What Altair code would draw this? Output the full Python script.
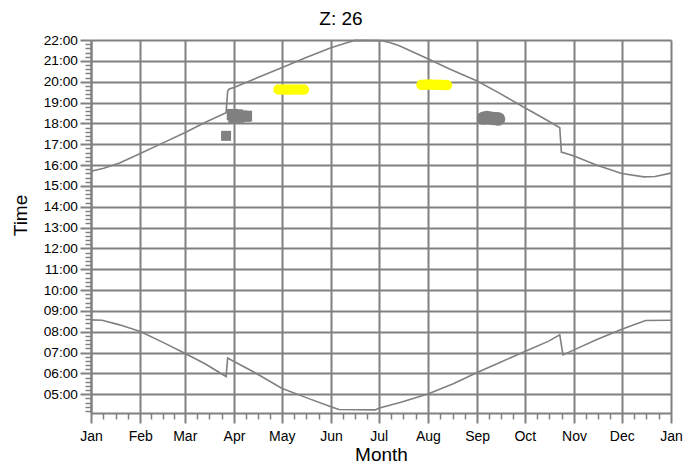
import json
import altair as alt
import pandas as pd

FONT = "Liberation Sans"
GRID = "#808080"

# ---- axis decorations ----
month_names = ["Jan", "Feb", "Mar", "Apr", "May", "Jun", "Jul", "Aug", "Sep", "Oct", "Nov", "Dec", "Jan"]
month_starts = [0, 31, 59, 90, 120, 151, 181, 212, 243, 273, 304, 334, 365]
hour_ticks = list(range(5, 23))
minor_x = [s + (e - s) * k / 4 for s, e in zip(month_starts[:-1], month_starts[1:]) for k in (1, 2, 3)]
minor_y = [h / 5 for h in range(21, 110) if h % 5]

# ---- sunset (upper line): day of year, hours ----
sunset_day = [0, 8, 18, 31, 45, 59, 72, 85, 86, 87, 90, 105, 120, 135, 151, 161, 166, 183, 188, 194,
              212, 226, 243, 257, 273, 287, 295, 296, 304, 318, 334, 348, 355, 365]
sunset_time = [15.70, 15.85, 16.10, 16.55, 17.05, 17.55, 18.05, 18.51, 19.55, 19.65, 19.72, 20.20, 20.67, 21.15,
               21.63, 21.87, 21.98, 21.97, 21.88, 21.72, 21.10, 20.60, 20.03, 19.45, 18.75, 18.15, 17.79, 16.62,
               16.43, 16.00, 15.59, 15.43, 15.45, 15.61]

# ---- sunrise (lower line) ----
sunrise_day = [0, 7, 18, 31, 45, 59, 72, 85, 86, 90, 103, 120, 135, 151, 156, 179, 181, 195, 212, 228,
               243, 258, 273, 288, 295, 297, 304, 318, 334, 349, 365]
sunrise_time = [8.57, 8.55, 8.33, 8.01, 7.50, 6.97, 6.45, 5.85, 6.74, 6.57, 6.04, 5.29, 4.85, 4.40, 4.27, 4.25,
                4.33, 4.62, 5.01, 5.50, 6.04, 6.55, 7.05, 7.55, 7.85, 6.89, 7.13, 7.62, 8.12, 8.54, 8.55]

# ---- highlighted blobs ----
yellow_day = [118, 120, 122, 124, 126, 128, 130, 132, 134, 208, 210, 212, 214, 216, 218, 220, 222, 224]
yellow_time = [19.63, 19.63, 19.62, 19.62, 19.62, 19.63, 19.63, 19.62, 19.62,
               19.85, 19.85, 19.86, 19.86, 19.85, 19.85, 19.85, 19.84, 19.84]
gray_sq_day = [85, 89, 90, 92, 93, 95, 97, 98]
gray_sq_time = [17.40, 18.42, 18.28, 18.40, 18.30, 18.36, 18.33, 18.35]
gray_sq_size = [100, 130, 130, 130, 130, 115, 115, 115]
gray_circ_day = [247, 249, 251, 253, 255, 256.5]
gray_circ_time = [18.25, 18.28, 18.26, 18.23, 18.22, 18.21]

lines = pd.concat([
    pd.DataFrame({"day": sunset_day, "time": sunset_time, "series": "sunset"}),
    pd.DataFrame({"day": sunrise_day, "time": sunrise_time, "series": "sunrise"}),
])
yellow = pd.DataFrame({"day": yellow_day, "time": yellow_time})
gray_sq = pd.DataFrame({"day": gray_sq_day, "time": gray_sq_time, "size": gray_sq_size})
gray_circ = pd.DataFrame({"day": gray_circ_day, "time": gray_circ_time})

xscale = alt.Scale(domain=[0, 365], nice=False, zero=False)
yscale = alt.Scale(domain=[4.1, 22], nice=False, zero=False)

x_label_expr = "{}[indexof({}, datum.value)]".format(json.dumps(month_names).replace('"', "'"),
                                                      json.dumps(month_starts))
y_label_expr = "(datum.value < 10 ? '0' : '') + datum.value + ':00'"

x_major = alt.Axis(
    orient="bottom", values=month_starts, labelExpr=x_label_expr, title="Month",
    grid=True, gridColor=GRID, gridWidth=2, gridOpacity=1,
    tickColor=GRID, tickWidth=2, tickSize=10, domainColor=GRID, domainWidth=2,
    labelFont=FONT, labelFontSize=14, labelColor="black", labelPadding=6,
    labelFlush=False, labelOverlap=False,
    titleFont=FONT, titleFontSize=19, titleFontWeight="normal", titleColor="black",
    titleX=290, titleY=47, titleBaseline="alphabetic", titleAlign="center",
)
y_major = alt.Axis(
    orient="left", values=hour_ticks, labelExpr=y_label_expr, title="Time",
    grid=True, gridColor=GRID, gridWidth=2, gridOpacity=1,
    tickColor=GRID, tickWidth=2, tickSize=11, domainColor=GRID, domainWidth=2,
    labelFont=FONT, labelFontSize=13.7, labelColor="black", labelPadding=2.5,
    labelFlush=False, labelOverlap=False,
    titleFont=FONT, titleFontSize=19, titleFontWeight="normal", titleColor="black",
    titleX=-71, titleY=175, titleAngle=270, titleAlign="center", titleBaseline="middle",
)
x_minor = alt.Axis(orient="bottom", values=minor_x, labels=False, grid=False, domain=False,
                   tickColor=GRID, tickWidth=1.5, tickSize=6)
y_minor = alt.Axis(orient="left", values=minor_y, labels=False, grid=False, domain=False,
                   tickColor=GRID, tickWidth=1.5, tickSize=6)

line_layer = alt.Chart(lines).mark_line(color=GRID, strokeWidth=1.6).encode(
    x=alt.X("day:Q", scale=xscale, axis=x_major),
    y=alt.Y("time:Q", scale=yscale, axis=y_major),
    detail="series:N",
)
yellow_layer = alt.Chart(yellow).mark_point(shape="circle", filled=True, opacity=1, size=110, color="#ffff00").encode(
    x=alt.X("day:Q", scale=xscale, axis=x_minor, title=None),
    y=alt.Y("time:Q", scale=yscale, axis=y_minor, title=None),
)
gray_sq_layer = alt.Chart(gray_sq).mark_point(shape="square", filled=True, opacity=1, color=GRID).encode(
    x=alt.X("day:Q", scale=xscale, axis=None),
    y=alt.Y("time:Q", scale=yscale, axis=None),
    size=alt.Size("size:Q", scale=None, legend=None),
)
gray_circ_layer = alt.Chart(gray_circ).mark_point(shape="circle", filled=True, opacity=1, size=180, color=GRID).encode(
    x=alt.X("day:Q", scale=xscale, axis=None),
    y=alt.Y("time:Q", scale=yscale, axis=None),
)

chart = alt.layer(line_layer, yellow_layer, gray_sq_layer, gray_circ_layer).resolve_axis(
    x="independent", y="independent"
).properties(
    width=580, height=373,
    autosize=alt.AutoSizeParams(type="none"),
    padding={"left": 83, "top": 32, "right": 19, "bottom": 50},
    title=alt.TitleParams("Z: 26", font=FONT, fontSize=19, fontWeight="normal", color="black",
                          anchor="middle", dx=-40),
).configure_view(stroke=None).configure(background="white")

chart.save("out.html", embed_options={"renderer": "svg", "actions": False})
